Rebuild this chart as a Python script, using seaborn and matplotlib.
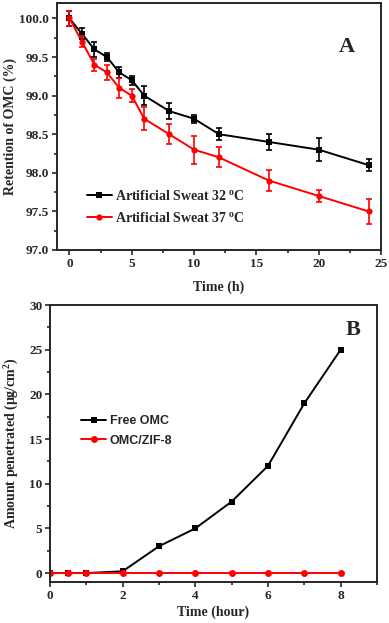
import matplotlib
matplotlib.use("Agg")
import matplotlib.pyplot as plt
import seaborn as sns
import pandas as pd
import numpy as np
from matplotlib.ticker import MultipleLocator

sns.set_style("ticks")
plt.rcParams['font.family'] = ['Liberation Serif', 'DejaVu Serif']
plt.rcParams['mathtext.fontset'] = 'custom'
plt.rcParams['mathtext.rm'] = 'Liberation Serif:bold'
plt.rcParams['mathtext.it'] = 'Liberation Serif:bold'

# Panel A data
time_a = [0, 1, 2, 3, 4, 5, 6, 8, 10, 12, 16, 20, 24]
ret_32 = [100.0, 99.8, 99.6, 99.5, 99.3, 99.2, 99.0, 98.8, 98.7, 98.5, 98.4, 98.3, 98.1]
err_32 = [0.10, 0.07, 0.10, 0.05, 0.07, 0.06, 0.12, 0.10, 0.05, 0.08, 0.10, 0.15, 0.08]
ret_37 = [100.0, 99.7, 99.4, 99.3, 99.1, 99.0, 98.7, 98.5, 98.3, 98.2, 97.9, 97.7, 97.5]
err_37 = [0.10, 0.07, 0.08, 0.10, 0.13, 0.08, 0.15, 0.13, 0.18, 0.13, 0.14, 0.08, 0.16]
label_32 = "Artificial Sweat 32 $^{\\mathrm{o}}$C"
label_37 = "Artificial Sweat 37 $^{\\mathrm{o}}$C"

# Panel B data
time_b = [0, 0.5, 1, 2, 3, 4, 5, 6, 7, 8]
free_omc = [0, 0, 0, 0.2, 3, 5, 8, 12, 19, 25]
omc_zif = [0, 0, 0, 0, 0, 0, 0, 0, 0, 0]

fig = plt.figure(figsize=(3.89, 6.23), dpi=100)
axA = fig.add_axes([57/389, (623-250)/623, (381-57)/389, 247/623])
axB = fig.add_axes([50/389, (623-582)/623, (377-50)/389, (582-305)/623])

red = "#ff0000"
dfA = pd.DataFrame({"t": time_a * 2, "r": ret_32 + ret_37,
                    "s": [label_32] * len(time_a) + [label_37] * len(time_a)})
sns.lineplot(data=dfA, x="t", y="r", hue="s", style="s", markers=["s", "o"], dashes=False,
             palette=["black", red], markersize=4.5, markeredgewidth=0, linewidth=1.4, ax=axA)
axA.errorbar(time_a, ret_32, yerr=err_32, fmt="none", ecolor="black", capsize=2.5, elinewidth=1.2, capthick=1.2)
axA.errorbar(time_a, ret_37, yerr=err_37, fmt="none", ecolor=red, capsize=2.5, elinewidth=1.2, capthick=1.2)
axA.set_xlim(-1, 25)
axA.set_ylim(97.0, 100.2)
axA.xaxis.set_major_locator(MultipleLocator(5))
axA.xaxis.set_minor_locator(MultipleLocator(2.5))
axA.yaxis.set_major_locator(MultipleLocator(0.5))
axA.yaxis.set_minor_locator(MultipleLocator(0.25))
axA.tick_params(which="both", direction="out", labelsize=9.5, width=1.2, pad=2)
axA.tick_params(which="major", length=3.5)
axA.tick_params(which="minor", length=2)
for lbl in axA.get_xticklabels() + axA.get_yticklabels():
    lbl.set_fontweight("bold")
axA.set_xlabel("Time (h)", fontsize=10, fontweight="bold", labelpad=8)
axA.set_ylabel("Retention of OMC (%)", fontsize=10, fontweight="bold", labelpad=2)
axA.text(0.895, 0.822, "A", transform=axA.transAxes, fontsize=16, fontweight="bold", ha="center", va="center")
legA = axA.legend(loc="lower left", bbox_to_anchor=(0.075, 0.08), frameon=False, fontsize=10,
                  handlelength=1.8, labelspacing=0.55, borderaxespad=0, handletextpad=0.25)
for t in legA.get_texts():
    t.set_fontweight("bold")
for sp in axA.spines.values():
    sp.set_linewidth(1.4)

dfB = pd.DataFrame({"t": time_b * 2, "a": free_omc + omc_zif,
                    "s": ["Free OMC"] * len(time_b) + ["OMC/ZIF-8"] * len(time_b)})
sns.lineplot(data=dfB, x="t", y="a", hue="s", style="s", markers=["s", "o"], dashes=False,
             palette=["black", red], markersize=5, markeredgewidth=0, linewidth=1.4, ax=axB)
axB.set_xlim(0, 9)
axB.set_ylim(-1, 30)
axB.xaxis.set_major_locator(MultipleLocator(2))
axB.xaxis.set_minor_locator(MultipleLocator(1))
axB.yaxis.set_major_locator(MultipleLocator(5))
axB.yaxis.set_minor_locator(MultipleLocator(2.5))
axB.tick_params(which="both", direction="out", labelsize=9.5, width=1.2, pad=2)
axB.tick_params(which="major", length=3.5)
axB.tick_params(which="minor", length=2)
for lbl in axB.get_xticklabels() + axB.get_yticklabels():
    lbl.set_fontweight("bold")
axB.set_xlabel("Time (hour)", fontsize=10, fontweight="bold", labelpad=3)
axB.set_ylabel("Amount penetrated ($\\mathrm{\\mu}$g/cm$^{2}$)", fontsize=10, fontweight="bold", labelpad=6)
axB.text(0.927, 0.91, "B", transform=axB.transAxes, fontsize=16, fontweight="bold", ha="center", va="center")
legB = axB.legend(loc="upper left", bbox_to_anchor=(0.08, 0.62), frameon=False,
                  prop={"family": "Liberation Sans", "weight": "bold", "size": 9},
                  handlelength=2.0, labelspacing=0.6, borderaxespad=0, handletextpad=0.3)
for sp in axB.spines.values():
    sp.set_linewidth(1.4)

fig.savefig("out.png", dpi=100)
